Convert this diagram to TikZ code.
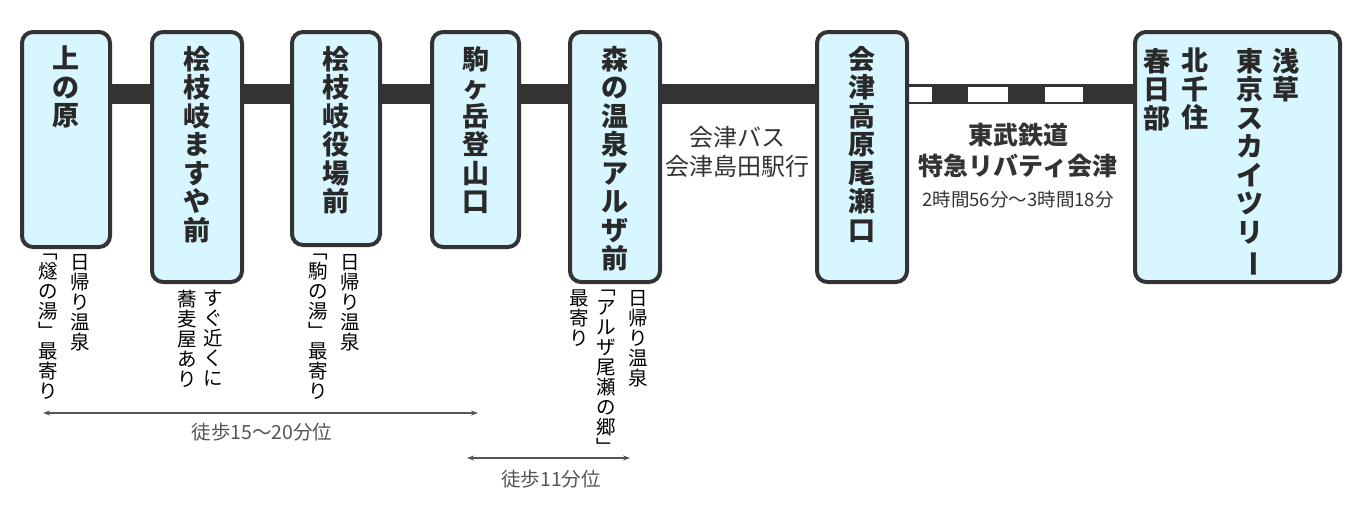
\documentclass[tikz,border=0pt]{standalone}
\usepackage{fontspec}
\setmainfont{Noto Sans CJK JP}
\usetikzlibrary{arrows.meta}
\definecolor{dk}{HTML}{333333}
\definecolor{bx}{HTML}{D7F6FF}
\definecolor{gr}{HTML}{555555}
\newcommand{\vbar}{\rotatebox[origin=c]{-90}{ー}}
\begin{document}
\begin{tikzpicture}[x=1pt,y=-1pt,
  st/.style={draw=dk,line width=4pt,fill=bx,rounded corners=11pt,anchor=north west,inner sep=0pt},
  bt/.style={anchor=north,font=\bfseries\fontsize{27}{28.5}\selectfont,align=center,inner sep=0pt,text=dk!80!black},
  nt/.style={anchor=north,font=\fontsize{19.5}{20}\selectfont,align=center,inner sep=0pt,text=black},
  ar/.style={gr,line width=1.2pt,{Stealth[length=7pt,width=5pt]}-{Stealth[length=7pt,width=5pt]}}]
\useasboundingbox (0,0) rectangle (1364,515);
% line
\coordinate (l1) at (100,94); \coordinate (l2) at (820,94);
\draw[dk,line width=20pt] (l1) -- (l2);
\coordinate (r1) at (900,94); \coordinate (r2) at (1140,94);
\draw[dk,line width=20pt] (r1) -- (r2);
\foreach \a/\b in {907/932,968/1008,1045/1083}{\fill[white] (\a,86.5) rectangle (\b,101.5);}
% boxes
\node[st,minimum width=88pt,minimum height=215pt] (b1) at (20,30) {};
\node[st,minimum width=90pt,minimum height=250pt] (b2) at (150,30) {};
\node[st,minimum width=88pt,minimum height=213pt] (b3) at (290,30) {};
\node[st,minimum width=87pt,minimum height=215pt] (b4) at (430,30) {};
\node[st,minimum width=90pt,minimum height=250pt] (b5) at (568,30) {};
\node[st,minimum width=90pt,minimum height=250pt] (b6) at (815,30) {};
\node[st,minimum width=205pt,minimum height=250pt] (b7) at (1133,30) {};
% box texts
\node[bt] (t1) at ([yshift=-16pt]b1.north) {上\\の\\原};
\node[bt] (t2) at ([yshift=-16pt]b2.north) {桧\\枝\\岐\\ま\\す\\や\\前};
\node[bt] (t3) at ([yshift=-16pt]b3.north) {桧\\枝\\岐\\役\\場\\前};
\node[bt] (t4) at ([yshift=-16pt]b4.north) {駒\\ヶ\\岳\\登\\山\\口};
\node[bt] (t5) at ([yshift=-16pt]b5.north) {森\\の\\温\\泉\\ア\\ル\\ザ\\前};
\node[bt] (t6) at ([yshift=-16pt]b6.north) {会\\津\\高\\原\\尾\\瀬\\口};
\node[bt] (t7a) at (1286,48) {浅\\草};
\node[bt] (t7b) at (1250,48) {東\\京\\ス\\カ\\イ\\ツ\\リ\\\vbar};
\node[bt] (t7c) at (1195,48) {北\\千\\住};
\node[bt] (t7d) at (1157,48) {春\\日\\部};
% notes
\node[nt] (n1a) at (80,254) {日\\帰\\り\\温\\泉};
\node[nt] (n1b) at (48,254) {﹁\\燧\\の\\湯\\﹂\\最\\寄\\り};
\node[nt] (n2a) at (213,290) {す\\ぐ\\近\\く\\に};
\node[nt] (n2b) at (187,290) {蕎\\麦\\屋\\あ\\り};
\node[nt] (n3a) at (350,254) {日\\帰\\り\\温\\泉};
\node[nt] (n3b) at (318,254) {﹁\\駒\\の\\湯\\﹂\\最\\寄\\り};
\node[nt] (n5a) at (638,290) {日\\帰\\り\\温\\泉};
\node[nt] (n5b) at (606,290) {﹁\\ア\\ル\\ザ\\尾\\瀬\\の\\郷\\﹂};
\node[nt] (n5c) at (579,290) {最\\寄\\り};
% middle labels
\node[align=center,font=\fontsize{24}{29}\selectfont,text=dk] (bus) at (737,152) {会津バス\\会津島田駅行};
\node[align=center,font=\bfseries\fontsize{25}{31}\selectfont,text=dk] (tob) at (1018,150) {東武鉄道\\特急リバティ会津};
\node[font=\fontsize{18.5}{20}\selectfont,text=dk] (tim) at (1018,200) {2時間56分〜3時間18分};
% walking arrows
\coordinate (w1) at (43,413); \coordinate (w2) at (478,413);
\draw[ar] (w1) -- (w2);
\node[font=\fontsize{19.5}{20}\selectfont,text=gr] (wl1) at (262,432) {徒歩15〜20分位};
\coordinate (w3) at (467,458); \coordinate (w4) at (630,458);
\draw[ar] (w3) -- (w4);
\node[font=\fontsize{19.5}{20}\selectfont,text=gr] (wl2) at (551,479) {徒歩11分位};
\end{tikzpicture}
\end{document}
